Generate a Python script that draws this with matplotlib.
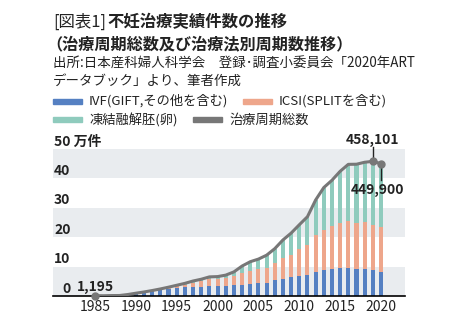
import numpy as np
import matplotlib
matplotlib.use('Agg')
import matplotlib.pyplot as plt

plt.rcParams['font.family'] = ['Noto Sans CJK JP', 'DejaVu Sans']

# values in 万件 (10,000 cycles)
years = list(range(1985, 2021))
ivf = [0.12, 0.08, 0.15, 0.17, 0.47, 0.90, 1.30, 1.75, 2.10, 2.40,
       2.60, 2.90, 3.00, 3.20, 3.30, 3.40, 3.30, 3.60, 3.86, 4.16,
       4.28, 4.48, 5.40, 5.91, 6.31, 6.77, 7.14, 8.21, 8.99, 9.23,
       9.36, 9.46, 9.15, 9.26, 8.81, 8.29]
icsi = [0, 0, 0, 0, 0, 0, 0, 0.01, 0.15, 0.40,
        0.75, 1.00, 1.50, 1.90, 2.40, 2.30, 2.70, 3.10, 3.89, 4.47,
        4.76, 5.00, 5.70, 7.14, 7.68, 9.07, 10.25, 12.52, 13.49, 14.42,
        15.58, 16.13, 15.77, 15.89, 15.48, 15.17]
frozen = [0, 0, 0, 0, 0.03, 0.05, 0.07, 0.10, 0.15, 0.20,
          0.30, 0.40, 0.60, 0.60, 0.80, 0.90, 1.10, 1.50, 2.45, 3.03,
          3.51, 4.40, 5.00, 6.01, 7.39, 8.38, 9.58, 11.91, 14.40, 15.72,
          17.47, 19.20, 19.90, 20.35, 21.52, 21.53]
total = [0.1195, 0.08, 0.15, 0.17, 0.50, 0.95, 1.37, 1.86, 2.40, 3.00,
         3.65, 4.30, 5.10, 5.70, 6.50, 6.60, 7.10, 8.20, 10.19, 11.66,
         12.55, 13.88, 16.10, 19.06, 21.38, 24.22, 26.97, 32.64, 36.88, 39.37,
         42.41, 44.78, 44.82, 45.49, 45.81, 44.99]

labels = ['IVF(GIFT,その他を含む)', 'ICSI(SPLITを含む)', '凍結融解胚(卵)', '治療周期総数']
c_ivf = '#5580c2'
c_icsi = '#eea68b'
c_frz = '#8fcbbd'
c_line = '#777777'
txt = '#222222'

fig = plt.figure(figsize=(4.55, 3.32), dpi=100)
ax = fig.add_axes([53/455, 36/332, 352/455, 147/332])

# gray bands
for lo in (0, 20, 40):
    ax.axhspan(lo, lo + 10, color='#e9ecef', lw=0, zorder=0)

x = np.array(years)
ivf = np.array(ivf); icsi = np.array(icsi); frozen = np.array(frozen)
ax.bar(x, ivf, width=0.5, color=c_ivf, zorder=2)
ax.bar(x, icsi, width=0.5, bottom=ivf, color=c_icsi, zorder=2)
ax.bar(x, frozen, width=0.5, bottom=ivf + icsi, color=c_frz, zorder=2)
ax.plot(x, total, color=c_line, lw=2.2, zorder=3)
ax.plot([x[0], x[-2], x[-1]], [total[0], total[-2], total[-1]], 'o',
        color=c_line, ms=5, zorder=4, clip_on=False)

ax.set_xlim(1979.86, 2022.94)
ax.set_ylim(0, 50)
for s in ('top', 'right', 'left'):
    ax.spines[s].set_visible(False)
ax.spines['bottom'].set_color('black')
ax.spines['bottom'].set_linewidth(1.2)
ax.set_yticks([])
ax.set_xticks(range(1985, 2021, 5))
ax.tick_params(axis='x', length=0, labelsize=10, pad=3, colors=txt)

for v in range(0, 50, 10):
    ax.annotate(str(v), (1982.0, v), xytext=(0, 2.5), textcoords='offset points',
                ha='right', va='baseline', fontsize=10, fontweight='bold', color=txt)
ax.annotate('50 万件', (1979.95, 50), xytext=(0, 2.5), textcoords='offset points',
            ha='left', va='baseline', fontsize=10, fontweight='bold', color=txt,
            annotation_clip=False)

ax.annotate('1,195', (1985, total[0]), xytext=(0, 1), textcoords='offset points',
            ha='center', va='bottom', fontsize=10, fontweight='bold', color=txt)
ax.plot([2019, 2019], [total[-2], 50.8], color=txt, lw=1, zorder=3, clip_on=False)
ax.annotate('458,101', (2019, 50.8), xytext=(0, 0), textcoords='offset points',
            ha='center', va='bottom', fontsize=10, fontweight='bold', color=txt,
            annotation_clip=False)
ax.plot([2020, 2020], [total[-1], 39.5], color=txt, lw=1, zorder=3)
ax.annotate('449,900', (2019.6, 39.5), xytext=(0, -2), textcoords='offset points',
            ha='center', va='top', fontsize=10, fontweight='bold', color=txt)

# titles
fig.canvas.draw()
r = fig.canvas.get_renderer()
t1 = fig.text(53/455, 1 - 22/332, '[図表1]', fontsize=11.8, va='center', ha='left', color=txt)
bb = t1.get_window_extent(renderer=r)
fig.text(bb.x1/455 + 1/455, 1 - 22/332, '不妊治療実績件数の推移', fontsize=11.8, va='center',
         ha='left', fontweight='bold', color=txt)
fig.text(46/455, 1 - 44/332, '（治療周期総数及び治療法別周期数推移）', fontsize=11.6, va='center',
         ha='left', fontweight='bold', color=txt)
fig.text(53/455, 1 - 64/332, '出所:日本産科婦人科学会　登録･調査小委員会「2020年ART',
         fontsize=9.7, va='center', ha='left', color=txt)
fig.text(53/455, 1 - 81/332, 'データブック」より、筆者作成',
         fontsize=9.7, va='center', ha='left', color=txt)

# legend
def leg(xp, yp, color, text):
    fig.patches.append(plt.Rectangle((xp/455, 1 - (yp + 2.5)/332), 29/455, 5/332,
                                     transform=fig.transFigure, color=color))
    fig.text((xp + 36)/455, 1 - yp/332, text, fontsize=9.5, va='center', ha='left',
             color=txt)

leg(53, 101, c_ivf, labels[0])
leg(243, 101, c_icsi, labels[1])
leg(53, 120, c_frz, labels[2])
leg(193, 120, c_line, labels[3])

fig.savefig('out.png', dpi=100)
